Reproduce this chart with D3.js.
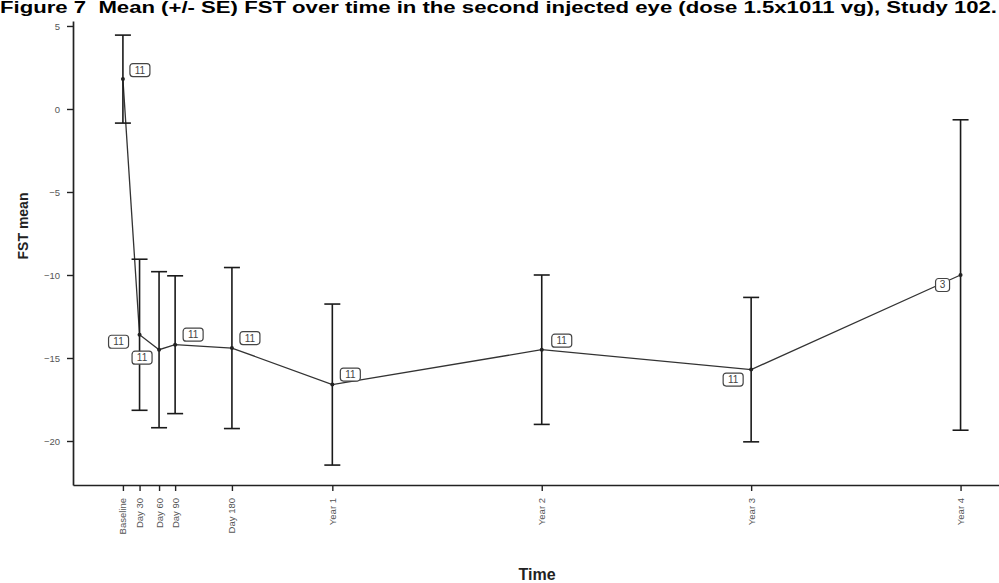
<!DOCTYPE html>
<html>
<head>
<meta charset="utf-8">
<script src="https://cdn.jsdelivr.net/npm/d3@7"></script>
<style>
  body { margin: 0; background: #fff; }
  svg { display: block; }
</style>
</head>
<body>
<div id="chart"></div>
<script>
const w = 999;
const h = 583;

// visits
const timeLabels = ["Baseline", "Day 30", "Day 60", "Day 90", "Day 180", "Year 1", "Year 2", "Year 3", "Year 4"];
const studyDay = [0, 29, 63, 91, 190, 365, 730, 1095, 1460];
const fstMean = [1.8, -13.6, -14.5, -14.2, -14.4, -16.6, -14.5, -15.7, -10.0];
const fstSE = [2.65, 4.55, 4.7, 4.15, 4.85, 4.85, 4.5, 4.35, 9.35];
const nSubjects = [11, 11, 11, 11, 11, 11, 11, 11, 3];
const yTicks = [5, 0, -5, -10, -15, -20];

// where the n boxes sit relative to their point (px)
const labelOffset = [[17, -9], [-21, 7], [-17, 8], [18, -10], [18, -10], [18, -10], [20, -9], [-18, 10], [-18, 10]];

const panel = {left: 73, right: 999, top: 21, bottom: 485};

const svg = d3.select('#chart').
append('svg').
attr('width', w).
attr('height', h);

const xScale = d3.scaleLinear().
domain([-87, 1527]).
range([panel.left, panel.right]);

const yScale = d3.scaleLinear().
domain([-22.65, 5.3]).
range([panel.bottom, panel.top]);

// title sits tight against the top edge
svg.append('text').
attr('x', 0).
attr('y', 13).
attr('textLength', 997).
attr('lengthAdjust', 'spacingAndGlyphs').
style('font-family', '"Liberation Sans Narrow", "Liberation Sans", Arial, sans-serif').
style('font-weight', 'bold').
style('font-size', '16px').
style('white-space', 'pre').
text('Figure 7\u00a0\u00a0Mean (+/- SE) FST over time in the second injected eye (dose 1.5x1011 vg), Study 102.');

// axes
const yAxis = d3.axisLeft(yScale).tickValues(yTicks).tickSize(6).tickSizeOuter(0).tickPadding(7);
const gy = svg.append('g').
attr('transform', 'translate(' + panel.left + ',0)').
call(yAxis);

const xAxis = d3.axisBottom(xScale).tickValues(studyDay).tickFormat((d, i) => timeLabels[i]).tickSize(6).tickSizeOuter(0);
const gx = svg.append('g').
attr('transform', 'translate(0,' + panel.bottom + ')').
call(xAxis);

[gx, gy].forEach(g => {
  g.select('.domain').attr('stroke', '#222').attr('stroke-width', 1.7);
  g.selectAll('.tick line').attr('stroke', '#222').attr('stroke-width', 1.4);
  g.selectAll('.tick text').
  attr('fill', '#555').
  style('font-family', '"Liberation Sans", Arial, sans-serif').
  style('font-size', '9.5px');
});

gx.selectAll('.tick text').
attr('transform', 'rotate(-90)').
attr('text-anchor', 'end').
attr('x', -13).
attr('y', 0).
attr('dy', '0.32em');

// axis titles
svg.append('text').
attr('transform', 'translate(28,226) rotate(-90)').
attr('text-anchor', 'middle').
style('font-family', '"Liberation Sans", Arial, sans-serif').
style('font-weight', 'bold').
style('font-size', '14px').
attr('fill', '#222').
text('FST mean');

svg.append('text').
attr('x', 537).
attr('y', 580).
attr('text-anchor', 'middle').
style('font-family', '"Liberation Sans", Arial, sans-serif').
style('font-weight', 'bold').
style('font-size', '16px').
attr('fill', '#222').
text('Time');

const pts = studyDay.map((d, i) => ({day: d, mean: fstMean[i], se: fstSE[i], n: nSubjects[i], off: labelOffset[i]}));

// mean line
svg.append('path').
datum(pts).
attr('fill', 'none').
attr('stroke', '#333').
attr('stroke-width', 1.3).
attr('d', d3.line().x(d => xScale(d.day)).y(d => yScale(d.mean)));

// error bars
const eb = svg.append('g').attr('stroke', '#1a1a1a').attr('stroke-width', 1.6);
eb.selectAll('line.bar').
data(pts).
enter().
append('line').
attr('class', 'bar').
attr('x1', d => xScale(d.day)).
attr('x2', d => xScale(d.day)).
attr('y1', d => yScale(d.mean + d.se)).
attr('y2', d => yScale(d.mean - d.se));

['+', '-'].forEach(s => {
  eb.selectAll('line.cap' + (s === '+' ? 'u' : 'l')).
  data(pts).
  enter().
  append('line').
  attr('x1', d => xScale(d.day) - 8).
  attr('x2', d => xScale(d.day) + 8).
  attr('y1', d => yScale(s === '+' ? d.mean + d.se : d.mean - d.se)).
  attr('y2', d => yScale(s === '+' ? d.mean + d.se : d.mean - d.se));
});

// points
svg.selectAll('circle.pt').
data(pts).
enter().
append('circle').
attr('class', 'pt').
attr('cx', d => xScale(d.day)).
attr('cy', d => yScale(d.mean)).
attr('r', 2).
attr('fill', '#222');

// n labels
const lab = svg.selectAll('g.nlab').
data(pts).
enter().
append('g').
attr('class', 'nlab').
attr('transform', d => 'translate(' + (xScale(d.day) + d.off[0]) + ',' + (yScale(d.mean) + d.off[1]) + ')');

lab.append('rect').
attr('x', d => d.n > 9 ? -10 : -7).
attr('y', -6.5).
attr('width', d => d.n > 9 ? 20 : 14).
attr('height', 13).
attr('rx', 3).
attr('fill', '#fff').
attr('stroke', '#444').
attr('stroke-width', 1.2);

lab.append('text').
attr('text-anchor', 'middle').
attr('dy', '0.35em').
attr('fill', '#444').
style('font-family', '"Liberation Sans", Arial, sans-serif').
style('font-size', '10px').
text(d => d.n);
</script>
</body>
</html>
